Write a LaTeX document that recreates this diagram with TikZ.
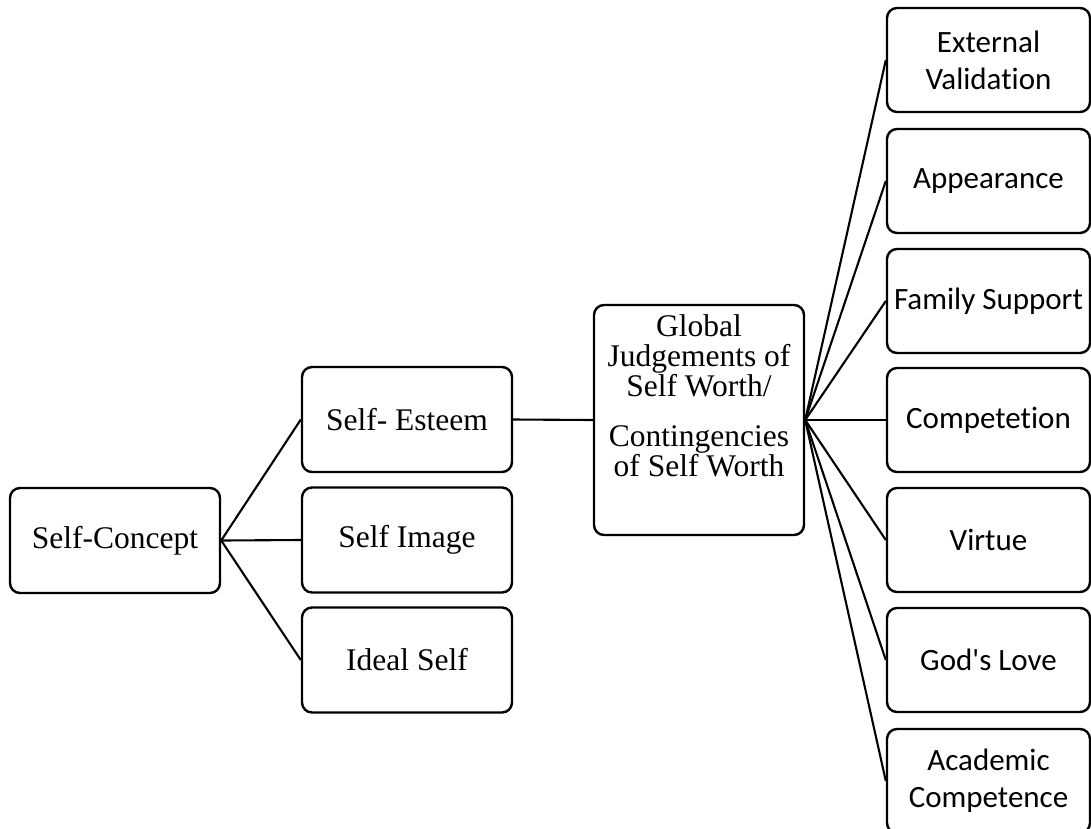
\documentclass[tikz,border=0pt]{standalone}
\usepackage{fontspec}
\setmainfont{Liberation Serif}
\newfontfamily\calib[Ligatures=NoCommon]{Carlito}
\begin{document}
\begin{tikzpicture}[x=1pt,y=-1pt,
  box/.style={draw, line width=2.4pt, rounded corners=10pt, minimum width=210pt, minimum height=105pt, inner sep=0pt, align=center, font=\fontsize{31.5}{30}\selectfont},
  rbox/.style={box, minimum width=203pt, minimum height=104pt, font=\calib\fontsize{31}{37}\selectfont},
  conn/.style={line width=2.1pt}]
\useasboundingbox (0,0) rectangle (1091,828);
% left
\node[box] (sc) at (115,540.5) {Self-Concept};
\node[box] (se) at (407,419.5) {Self- Esteem};
\node[box] (si) at (407,540) {Self Image};
\node[box] (is) at (407,660) {Ideal Self};
% global
\node[box, minimum height=230pt] (g) at (699,420) {};
\node[inner sep=0pt, anchor=north, align=center, font=\fontsize{31.5}{30}\selectfont] (gt) at (699,314)
  {Global\\Judgements of\\Self Worth/\\[20pt]Contingencies\\of Self Worth};
% right column
\node[rbox] (ev) at (988.5,60) {External\\Validation};
\node[rbox] (ap) at (988.5,181) {Appearance};
\node[rbox] (fs) at (988.5,301) {Family Support};
\node[rbox] (cp) at (988.5,420) {Competetion};
\node[rbox] (vi) at (988.5,540) {Virtue};
\node[rbox] (gl) at (988.5,660) {God's Love};
\node[rbox] (ac) at (988.5,781) {Academic\\Competence};
% connectors
\foreach \t in {se,si,is} \draw[conn] (sc.east) -- (\t.west);
\draw[conn] (se.east) -- (g.west);
\foreach \t in {ev,ap,fs,cp,vi,gl,ac} \draw[conn] (g.east) -- (\t.west);
\end{tikzpicture}
\end{document}
